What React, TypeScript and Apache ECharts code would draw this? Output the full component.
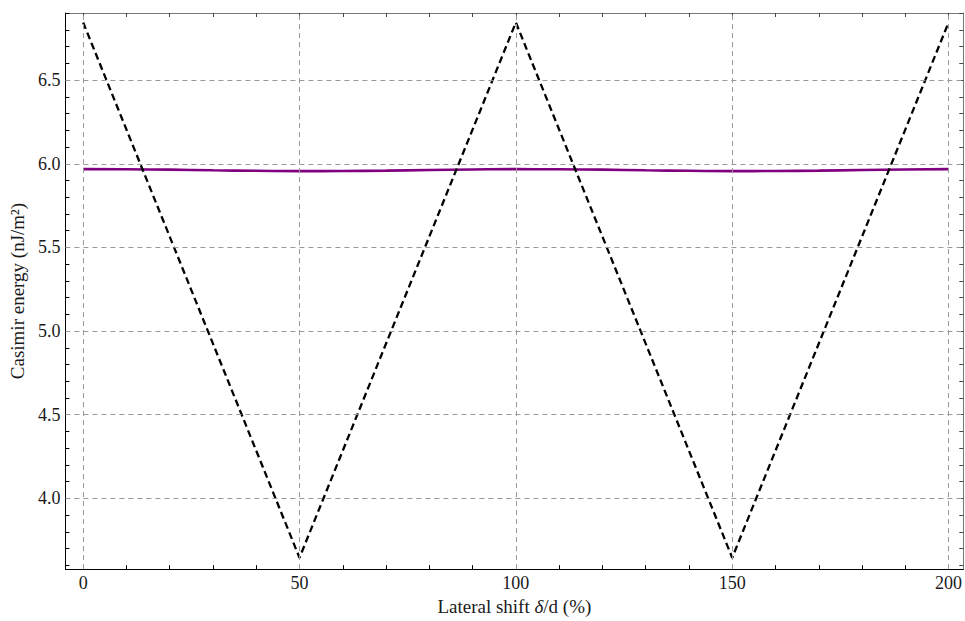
import React, { useEffect, useRef } from "react";
import * as echarts from "echarts";

// ---- data ----
const xLabelTicks = [0, 50, 100, 150, 200];
const xMinorTicks = [0, 10, 20, 30, 40, 50, 60, 70, 80, 90, 100, 110, 120, 130, 140, 150, 160, 170, 180, 190, 200];
const yLabelTicks = [4.0, 4.5, 5.0, 5.5, 6.0, 6.5];
const yMinorTicks = [3.6, 3.7, 3.8, 3.9, 4.0, 4.1, 4.2, 4.3, 4.4, 4.5, 4.6, 4.7, 4.8, 4.9, 5.0, 5.1, 5.2, 5.3, 5.4, 5.5, 5.6, 5.7, 5.8, 5.9, 6.0, 6.1, 6.2, 6.3, 6.4, 6.5, 6.6, 6.7, 6.8, 6.9];

// dashed reference curve (vertices)
const dashedX = [0, 50, 100, 150, 200];
const dashedY = [6.845, 3.645, 6.845, 3.645, 6.845];

// solid purple curve
const purpleX = [0, 10, 20, 30, 40, 50, 60, 70, 80, 90, 100, 110, 120, 130, 140, 150, 160, 170, 180, 190, 200];
const purpleY = [5.968, 5.967, 5.965, 5.961, 5.958, 5.956, 5.957, 5.959, 5.963, 5.966, 5.968, 5.967, 5.965, 5.961, 5.958, 5.956, 5.957, 5.959, 5.963, 5.966, 5.968];

const FONT = "'Liberation Serif', 'Times New Roman', serif";

export default function App() {
  const ref = useRef<HTMLDivElement>(null);
  useEffect(() => {
    if (!ref.current) return;
    const chart = echarts.init(ref.current, null, { renderer: "svg" });
    const xMin = -4.1;
    const xMax = 203.4;
    const yMin = 3.577;
    const yMax = 6.9015;
    const gridStyle = { color: "#999999", width: 1, type: [5, 4] as number[] };
    const baseX = {
      type: "value" as const,
      min: xMin,
      max: xMax,
      splitLine: { show: false },
    };
    const baseY = {
      type: "value" as const,
      min: yMin,
      max: yMax,
      splitLine: { show: false },
    };
    chart.setOption({
      animation: false,
      backgroundColor: "#ffffff",
      grid: { left: 61, top: 13, right: 1, bottom: 48, containLabel: false },
      xAxis: [
        {
          ...baseX,
          position: "bottom",
          axisLine: { show: true, onZero: false, lineStyle: { color: "#000", width: 1 } },
          axisTick: { show: true, inside: true, length: 4, customValues: xMinorTicks, lineStyle: { color: "#000" } },
          axisLabel: {
            show: true,
            customValues: xLabelTicks,
            fontFamily: FONT,
            fontSize: 18,
            color: "#1a1a1a",
            margin: 5,
          },
          name: "Lateral shift {i|δ}/d (%)",
          nameLocation: "middle",
          nameGap: 20,
          nameTextStyle: {
            fontFamily: FONT,
            fontSize: 19,
            color: "#1a1a1a",
            rich: { i: { fontFamily: FONT, fontSize: 19, fontStyle: "italic", color: "#1a1a1a" } },
          },
        },
        {
          ...baseX,
          position: "top",
          axisLine: { show: true, onZero: false, lineStyle: { color: "#777", width: 1 } },
          axisTick: { show: true, inside: true, length: 4, customValues: xMinorTicks, lineStyle: { color: "#444" } },
          axisLabel: { show: false },
        },
      ],
      yAxis: [
        {
          ...baseY,
          position: "left",
          axisLine: { show: true, onZero: false, lineStyle: { color: "#000", width: 1 } },
          axisTick: { show: true, inside: true, length: 4, customValues: yMinorTicks, lineStyle: { color: "#000" } },
          axisLabel: {
            show: true,
            customValues: yLabelTicks,
            formatter: (v: number) => v.toFixed(1),
            fontFamily: FONT,
            fontSize: 18,
            color: "#1a1a1a",
            margin: 5,
          },
          name: "Casimir energy (nJ/m²)",
          nameLocation: "middle",
          nameGap: 37,
          nameTextStyle: { fontFamily: FONT, fontSize: 19, color: "#1a1a1a" },
        },
        {
          ...baseY,
          position: "right",
          axisLine: { show: true, onZero: false, lineStyle: { color: "#777", width: 1 } },
          axisTick: { show: true, inside: true, length: 4, customValues: yMinorTicks, lineStyle: { color: "#444" } },
          axisLabel: { show: false },
        },
      ],
      series: [
        {
          type: "line",
          xAxisIndex: 0,
          yAxisIndex: 0,
          data: [],
          z: 1,
          silent: true,
          markLine: {
            silent: true,
            symbol: ["none", "none"],
            label: { show: false },
            lineStyle: gridStyle,
            data: [
              ...xLabelTicks.map((v) => ({ xAxis: v })),
              ...yLabelTicks.map((v) => ({ yAxis: v })),
            ],
          },
        },
        {
          type: "line",
          xAxisIndex: 0,
          yAxisIndex: 0,
          data: purpleX.map((x, i) => [x, purpleY[i]]),
          showSymbol: false,
          smooth: true,
          z: 3,
          lineStyle: { color: "#800080", width: 2.6 },
        },
        {
          type: "line",
          xAxisIndex: 0,
          yAxisIndex: 0,
          data: dashedX.map((x, i) => [x, dashedY[i]]),
          showSymbol: false,
          z: 4,
          lineStyle: { color: "#000000", width: 2.3, type: [7, 4] },
        },
      ],
    });
    return () => chart.dispose();
  }, []);
  return (
    <div
      ref={ref}
      style={{ position: "fixed", left: 0, top: 0, width: 965, height: 621, background: "#fff" }}
    />
  );
}
